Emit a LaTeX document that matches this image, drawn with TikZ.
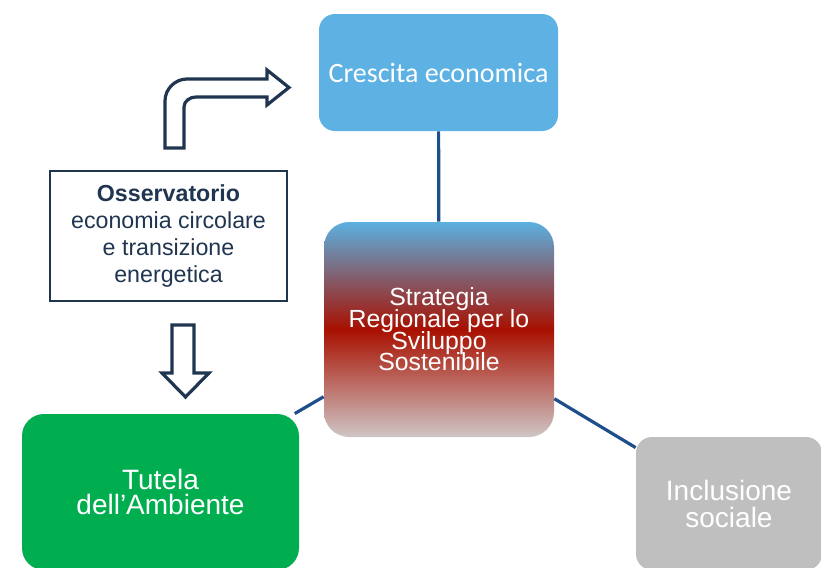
\documentclass[tikz,border=0pt]{standalone}
\usepackage{fontspec}
\setmainfont{Liberation Sans}
\newfontfamily\calibri{Carlito}
\usepackage{xcolor}
\usetikzlibrary{shapes.geometric, arrows, positioning}

\definecolor{crescitablue}{HTML}{5DB1E3}
\definecolor{strategiatop}{HTML}{5BB0E0}
\definecolor{strategiared}{HTML}{A81000}
\definecolor{strategiabottom}{HTML}{CFC6C6}
\definecolor{tutelagreen}{HTML}{00AE50}
\definecolor{inclusionegray}{HTML}{BFBFBF}
\definecolor{navy}{HTML}{1F3550}
\definecolor{linkblue}{HTML}{1F4E8C}

\newcommand\tightlines{\lineskiplimit-20pt\relax}

\begin{document}
\begin{tikzpicture}[x=0.5pt, y=-0.5pt,
    goal/.style={text=white, align=center, inner sep=0pt},
    link/.style={draw=linkblue, line width=1.6pt},
    blockarrow/.style={draw=navy, line width=1.6pt, fill=white, line join=miter}]
    \clip (0,0) rectangle (821,568);

    % the four goals
    \node[goal, fill=crescitablue, rounded corners=8pt, minimum width=119.5pt, minimum height=58.5pt,
          font=\calibri\fontsize{14}{16}\selectfont] (crescita) at (438.5,72.5) {Crescita economica};
    \node[goal, top color=strategiatop, bottom color=strategiabottom, middle color=strategiared,
          rounded corners=12.5pt, minimum width=115pt, minimum height=107.5pt,
          font=\fontsize{12.4}{10.8}\selectfont\tightlines] (strategia) at (439,329.5)
          {Strategia\\Regionale per lo\\Sviluppo\\Sostenibile};
    \node[goal, fill=tutelagreen, rounded corners=11pt, minimum width=138.5pt, minimum height=78pt,
          font=\fontsize{14}{12.5}\selectfont] (tutela) at (160.5,492) {Tutela\\dell’Ambiente};
    \node[goal, fill=inclusionegray, rounded corners=8pt, minimum width=93pt, minimum height=66.5pt,
          font=\fontsize{14}{13.5}\selectfont] (inclusione) at (729,503.5) {Inclusione\\sociale};

    \node[draw=navy, line width=0.75pt, text=navy, align=center, inner sep=0pt,
          minimum width=118.5pt, minimum height=65pt,
          font=\fontsize{11.6}{13.5}\selectfont] (osservatorio) at (168.5,236)
          {\textbf{Osservatorio}\\economia circolare\\e transizione\\energetica};

    \draw[link] (crescita) -- (strategia);
    \draw[link] (strategia) -- (tutela);
    \draw[link] (strategia) -- (inclusione);

    % block arrows out of the observatory
    \draw[blockarrow] (165,148) -- (165,101) .. controls (165,89) and (175,79) .. (187,79)
        -- (267,79) -- (267,70) -- (289,87.5) -- (267,105) -- (267,97) -- (196,97)
        .. controls (190,97) and (184,101) .. (184,107) -- (184,148) -- cycle;
    \draw[blockarrow] (172,325) -- (194,325) -- (194,373) -- (209,373) -- (185.5,397)
        -- (162,373) -- (172,373) -- cycle;
\end{tikzpicture}
\end{document}
